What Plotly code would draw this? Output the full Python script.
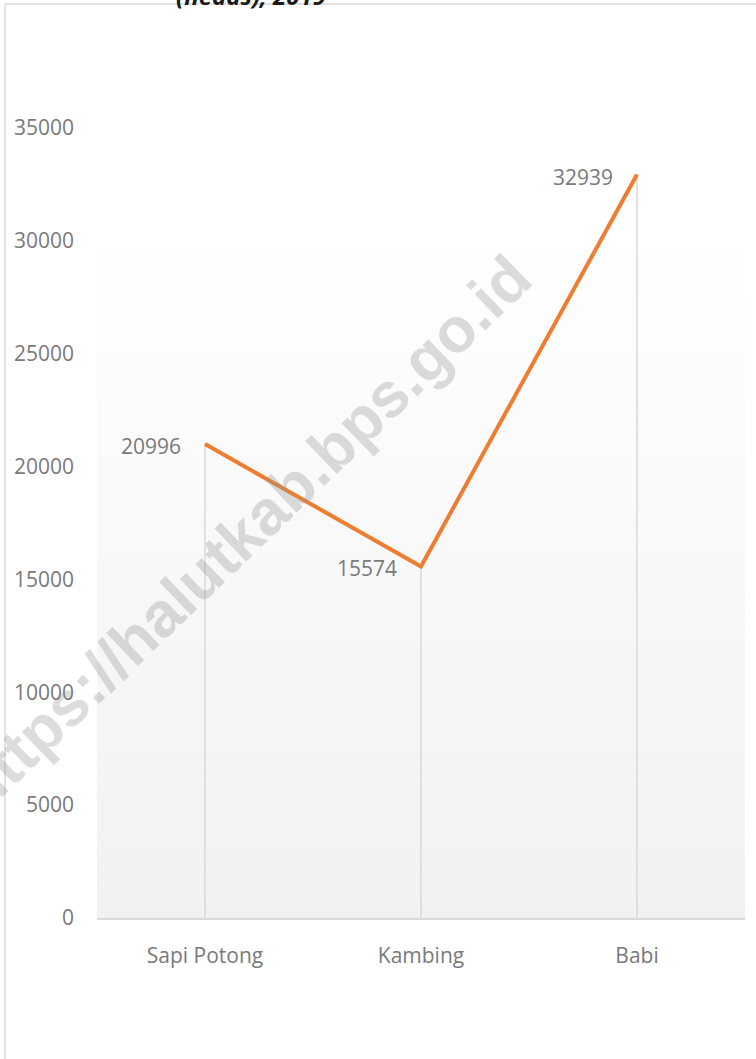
import plotly.graph_objects as go

# ---- data ----
categories = ["Sapi Potong", "Kambing", "Babi"]
values = [20996, 15574, 32939]
y_ticks = [0, 5000, 10000, 15000, 20000, 25000, 30000, 35000]
title_text = "(heads), 2019"
watermark = "https://halutkab.bps.go.id"

# ---- layout geometry (pixels) ----
W, H = 756, 1059
L, R = 97, 745
T, B = 60, 918
PX_PER_UNIT = (918 - 128) / 35000.0
ymax = (B - T) / PX_PER_UNIT


def xp(px):
    return (px - L) / (R - L)


def yp(py):
    return (B - py) / (B - T)


fig = go.Figure()

# drop lines (through error bars)
fig.add_trace(go.Scatter(
    x=categories, y=values, mode="markers",
    marker=dict(size=1, opacity=0),
    error_y=dict(type="data", symmetric=False,
                 array=[0] * len(values), arrayminus=values,
                 width=0, thickness=1.5, color="#d9d9d9"),
    hoverinfo="skip", showlegend=False,
))

# main line
fig.add_trace(go.Scatter(
    x=categories, y=values, mode="lines",
    line=dict(color="#ED7D31", width=4),
    showlegend=False,
))

shapes = []
# gradient background of plot area
n = 40
g_top, g_bot = 232, B
for i in range(n):
    y0 = g_top + (g_bot - g_top) * i / n
    y1 = g_top + (g_bot - g_top) * (i + 1) / n
    t = (i + 0.5) / n
    c = int(round(255 - (255 - 241) * t))
    shapes.append(dict(type="rect", xref="paper", yref="paper",
                       x0=0, x1=1, y0=yp(y1), y1=yp(y0),
                       fillcolor=f"rgb({c},{c},{c})", line=dict(width=0),
                       layer="below"))
# outer border (left and top)
shapes.append(dict(type="line", xref="paper", yref="paper",
                   x0=xp(5), x1=xp(5), y0=yp(H + 5), y1=yp(4),
                   line=dict(color="#d9d9d9", width=1.5)))
shapes.append(dict(type="line", xref="paper", yref="paper",
                   x0=xp(5), x1=xp(W + 5), y0=yp(4), y1=yp(4),
                   line=dict(color="#d9d9d9", width=1.5)))

annotations = []
# data labels
for c, v in zip(categories, values):
    annotations.append(dict(x=c, y=v, xref="x", yref="y", text=str(v),
                            showarrow=False, xanchor="right", yanchor="middle",
                            xshift=-22, yshift=-2,
                            font=dict(family="Open Sans", size=21, color="#7a7a7a")))
# clipped title
annotations.append(dict(x=xp(251), y=yp(14), xref="paper", yref="paper",
                        text=f"<b><i>{title_text}</i></b>", showarrow=False,
                        xanchor="center", yanchor="bottom",
                        font=dict(family="Open Sans", size=24, color="#1a1a1a")))
# watermark
annotations.append(dict(x=xp(244), y=yp(533), xref="paper", yref="paper",
                        text=f"<b>{watermark}</b>", showarrow=False,
                        textangle=-44, xanchor="center", yanchor="middle",
                        font=dict(family="Liberation Sans", size=63,
                                  color="rgba(150,150,150,0.33)")))

fig.update_layout(
    width=W, height=H,
    margin=dict(l=L, r=W - R, t=T, b=H - B, pad=0),
    paper_bgcolor="white", plot_bgcolor="rgba(0,0,0,0)",
    shapes=shapes, annotations=annotations,
    showlegend=False,
    xaxis=dict(range=[-0.5, 2.5], showgrid=False, zeroline=False,
               showline=True, linecolor="#d9d9d9", linewidth=1.5,
               ticks="", ticklabelstandoff=18,
               tickfont=dict(family="Open Sans", size=21, color="#7a7a7a")),
    yaxis=dict(range=[0, ymax], showgrid=False, zeroline=False,
               showline=False, tickvals=y_ticks, tickformat="d", ticks="",
               ticklabelstandoff=22,
               tickfont=dict(family="Open Sans", size=21, color="#7a7a7a")),
)

fig.write_html("out.html", config={"displayModeBar": False},
               post_script="document.body.style.margin='0';document.body.style.overflow='hidden';")
